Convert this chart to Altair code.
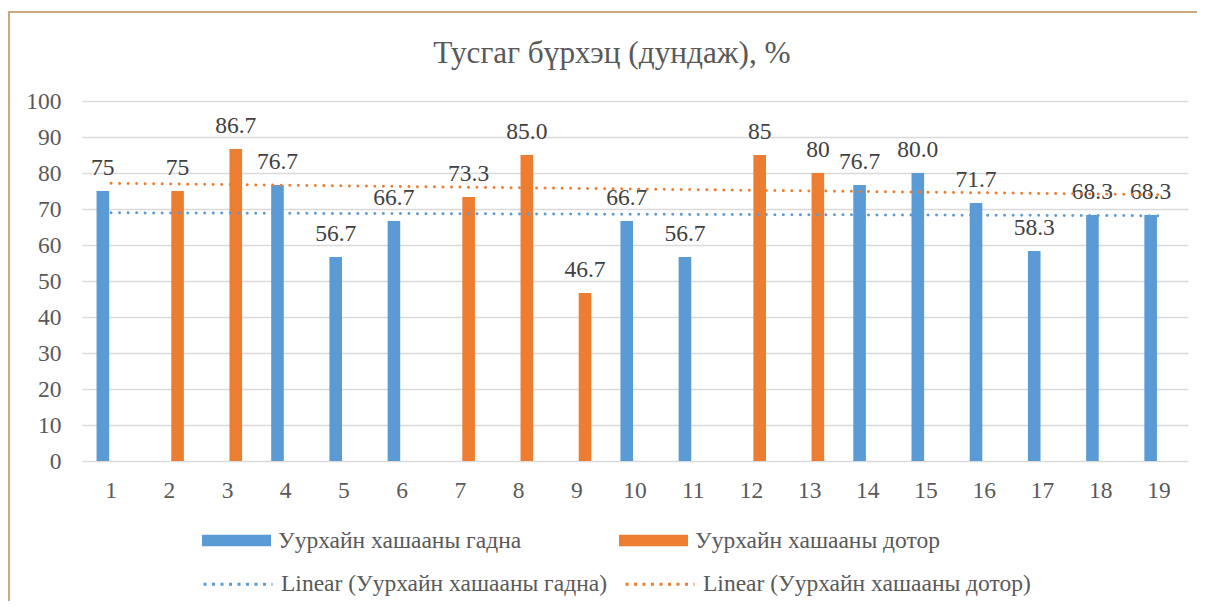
import altair as alt
import pandas as pd

FONT = "Liberation Serif"

categories = list(range(1, 20))
values = [75, 75, 86.7, 76.7, 56.7, 66.7, 73.3, 85.0, 46.7, 66.7, 56.7, 85, 80, 76.7, 80.0, 71.7, 58.3, 68.3, 68.3]
labels = ["75", "75", "86.7", "76.7", "56.7", "66.7", "73.3", "85.0", "46.7", "66.7",
          "56.7", "85", "80", "76.7", "80.0", "71.7", "58.3", "68.3", "68.3"]
groups = ["g", "d", "d", "g", "g", "g", "d", "d", "d", "g", "g", "d", "d", "g", "g", "g", "g", "g", "g"]

series_names = ["Уурхайн хашааны гадна", "Уурхайн хашааны дотор"]
trend_names = ["Linear (Уурхайн хашааны гадна)", "Linear (Уурхайн хашааны дотор)"]
colors = ["#5B9BD5", "#ED7D31"]
y_ticks = [0, 10, 20, 30, 40, 50, 60, 70, 80, 90, 100]
title_text = "Тусгаг бүрхэц (дундаж), %"

name_of = {"g": series_names[0], "d": series_names[1]}
df = pd.DataFrame({
    "x": categories,
    "value": values,
    "label": labels,
    "series": [name_of[g] for g in groups],
})

x_axis = alt.Axis(title=None, labelAngle=0, domain=False, ticks=False, grid=False,
                  labelPadding=17, labelFont=FONT, labelFontSize=23.5, labelColor="#595959")
x_scale = alt.Scale(paddingInner=0.5, paddingOuter=0.25)
x_off = alt.XOffset("series:N", scale=alt.Scale(domain=series_names, paddingInner=0.236))
y_axis = alt.Axis(values=y_ticks, tickCount=11, title=None, domain=False, ticks=False,
                  labelPadding=21, labelOverlap=False, labelFont=FONT, labelFontSize=23.5,
                  labelColor="#595959", grid=True, gridColor="#D9D9D9", gridWidth=1.5)
y_scale = alt.Scale(domain=[0, 100], nice=False)

bars = alt.Chart(df).mark_bar().encode(
    x=alt.X("x:O", sort="ascending", scale=x_scale, axis=x_axis),
    xOffset=x_off,
    y=alt.Y("value:Q", scale=y_scale, axis=y_axis),
    color=alt.Color(
        "series:N",
        scale=alt.Scale(domain=series_names, range=colors),
        legend=alt.Legend(
            title=None, orient="none", legendX=120, legendY=405, direction="horizontal",
            columns=2, columnPadding=97, symbolType="M-1,-0.17H1V0.17H-1Z", symbolSize=4761,
            symbolStrokeWidth=0, labelOffset=7, labelFont=FONT, labelFontSize=23.5,
            labelColor="#595959", labelLimit=0, padding=0,
        ),
    ),
)

text = alt.Chart(df).mark_text(
    baseline="alphabetic", dy=-16, font=FONT, fontSize=23.5, color="#404040"
).encode(
    x=alt.X("x:O", sort="ascending", scale=x_scale, axis=x_axis),
    xOffset=x_off,
    y=alt.Y("value:Q", scale=y_scale, axis=y_axis),
    text="label:N",
)

lines = alt.Chart(df).transform_regression(
    "x", "value", groupby=["series"], extent=[1, 19]
).transform_calculate(
    trend="'Linear (' + datum.series + ')'"
).mark_line(strokeWidth=3, strokeDash=[0.01, 8.5], strokeCap="round").encode(
    x=alt.X("x:Q", scale=alt.Scale(domain=[0.5, 19.5], nice=False, zero=False), axis=None),
    y=alt.Y("value:Q", scale=y_scale, axis=y_axis),
    stroke=alt.Stroke(
        "trend:N",
        scale=alt.Scale(domain=trend_names, range=colors),
        legend=alt.Legend(
            title=None, orient="none", legendX=120, legendY=447, direction="horizontal",
            columns=2, columnPadding=12, symbolType="stroke", symbolSize=4761,
            symbolStrokeWidth=3, symbolDash=[3, 5.5], labelOffset=7, labelFont=FONT,
            labelFontSize=23.5, labelColor="#595959", labelLimit=0, padding=0,
        ),
    ),
)

frame = alt.Chart(pd.DataFrame({"f": [0]})).mark_rect(
    filled=False, stroke="#C8A97E", strokeWidth=2
).encode(
    x=alt.value(-73), x2=alt.value(1400), y=alt.value(-89), y2=alt.value(800)
)

chart = alt.layer(frame, alt.layer(bars, text), lines).resolve_scale(
    x="independent"
).properties(
    width=1106,
    height=360,
    autosize=alt.AutoSizeParams(type="none"),
    padding={"left": 74, "top": 93, "right": 9, "bottom": 140},
    title=alt.TitleParams(
        text=title_text, font=FONT, fontSize=31.3, fontWeight="normal", color="#595959",
        anchor="middle", frame="group", baseline="alphabetic", dx=-23, dy=83, offset=0,
    ),
).configure(
    font=FONT
).configure_axis(
    labelFont=FONT
).configure_text(
    font=FONT
).configure_view(strokeWidth=0)

chart.save("out.html", embed_options={"renderer": "svg", "actions": False})
